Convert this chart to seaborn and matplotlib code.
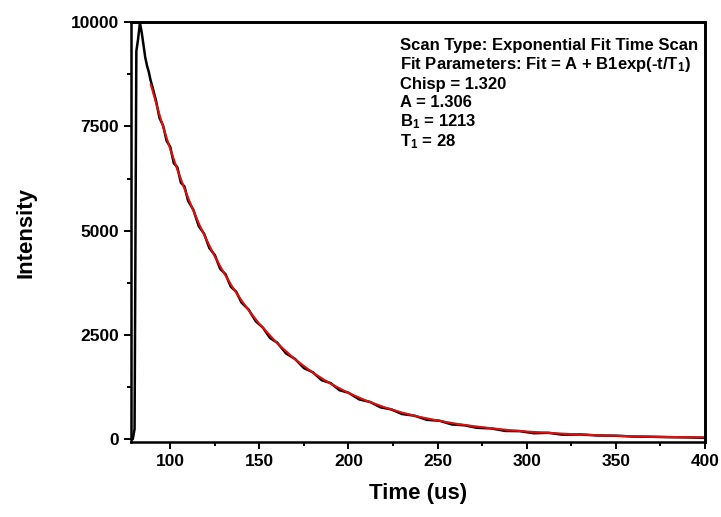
import pandas as pd
import matplotlib
matplotlib.use("Agg")
import matplotlib.pyplot as plt
from matplotlib.ticker import MultipleLocator
import seaborn as sns

# measured decay (black trace)
time_data = [78, 79, 80, 80.5, 81, 82, 83, 84, 85, 86, 87, 88, 89, 90, 92, 94, 96, 98,
             100, 102, 104, 106, 108, 110, 113, 116, 119, 122, 125, 128, 131, 134, 137,
             140, 144, 148, 152, 156, 160, 165, 170, 175, 180, 185, 190, 195, 200, 206,
             212, 218, 224, 230, 237, 244, 251, 258, 265, 272, 280, 288, 296, 304, 312,
             320, 330, 340, 350, 360, 370, 380, 390, 400]
intensity_data = [0, 10, 250, 4800, 9300, 9600, 9980, 9750, 9450, 9150, 8950, 8800, 8600, 8450,
                  8120, 7700, 7520, 7150, 7010, 6620, 6520, 6150, 6060, 5720, 5500, 5110,
                  4930, 4580, 4420, 4090, 3960, 3660, 3540, 3280, 3110, 2830, 2680, 2430,
                  2320, 2060, 1930, 1710, 1610, 1420, 1350, 1180, 1120, 960, 900, 770, 720,
                  610, 570, 470, 450, 360, 340, 280, 265, 205, 200, 150, 160, 115, 120, 95,
                  90, 70, 65, 55, 50, 40]

# exponential fit (red trace)
time_fit = [89, 90, 92, 94, 96, 98, 100, 104, 108, 112, 116, 120, 125, 130, 135, 140,
            145, 150, 160, 170, 180, 190, 200, 210, 220, 230, 240, 250, 260, 270, 280,
            290, 300, 310, 320, 330, 340, 350, 360, 370, 380, 390, 400]
intensity_fit = [8510, 8370, 8070, 7775, 7495, 7220, 6960, 6465, 6005, 5580, 5180, 4815,
                 4385, 4000, 3645, 3330, 3040, 2770, 2305, 1920, 1600, 1335, 1115, 930,
                 775, 645, 540, 455, 380, 320, 270, 225, 190, 165, 140, 120, 100, 90, 75,
                 65, 60, 55, 50]

fit_lines = [
    "Scan Type: Exponential Fit Time Scan",
    "Fit Parameters: Fit = A + B1exp(-t/T$_1$)",
    "Chisp = 1.320",
    "A = 1.306",
    "B$_1$ = 1213",
    "T$_1$ = 28",
]

sns.set_theme(style="ticks")
plt.rcParams["font.family"] = ["Liberation Sans", "DejaVu Sans"]
plt.rcParams["font.weight"] = "bold"
plt.rcParams["text.color"] = "black"
plt.rcParams["axes.labelcolor"] = "black"
plt.rcParams["axes.edgecolor"] = "black"
plt.rcParams["mathtext.fontset"] = "custom"
plt.rcParams["mathtext.rm"] = "Liberation Sans:bold"
plt.rcParams["mathtext.it"] = "Liberation Sans:bold"
plt.rcParams["mathtext.bf"] = "Liberation Sans:bold"

df_data = pd.DataFrame({"Time": time_data, "Intensity": intensity_data})
df_fit = pd.DataFrame({"Time": time_fit, "Intensity": intensity_fit})

fig = plt.figure(figsize=(7.21, 5.17), dpi=100)
ax = fig.add_axes([0.1817, 0.1451, 0.7961, 0.8123])

sns.lineplot(data=df_data, x="Time", y="Intensity", ax=ax, color="black",
             linewidth=1.8, sort=False, estimator=None)
sns.lineplot(data=df_fit, x="Time", y="Intensity", ax=ax, color="#e01010",
             linewidth=1.5, sort=False, estimator=None)

ax.set_xlim(78, 400)
ax.set_ylim(-60, 10000)
ax.xaxis.set_major_locator(MultipleLocator(50))
ax.xaxis.set_minor_locator(MultipleLocator(25))
ax.yaxis.set_major_locator(MultipleLocator(2500))
ax.yaxis.set_minor_locator(MultipleLocator(1250))
ax.tick_params(which="major", direction="out", length=5, width=1.4, labelsize=12.5,
               colors="black")
ax.tick_params(which="minor", direction="out", length=3, width=1.4, colors="black")
for lbl in ax.get_xticklabels() + ax.get_yticklabels():
    lbl.set_fontweight("bold")
for side in ["top", "right", "left", "bottom"]:
    ax.spines[side].set_visible(True)
    ax.spines[side].set_linewidth(1.8)
    ax.spines[side].set_color("black")

# make sure the top and right edges of the box are drawn
ax.plot([0, 1, 1], [1, 1, 0], transform=ax.transAxes, color="black", linewidth=2.0,
        clip_on=False, zorder=6, solid_capstyle="projecting")

ax.set_xlabel("Time (us)", fontsize=16, fontweight="bold", labelpad=10)
ax.set_ylabel("Intensity", fontsize=16, fontweight="bold", labelpad=25)

y_pos = [0.9116, 0.8743, 0.8356, 0.8008, 0.7640, 0.7253]
for txt, yp in zip(fit_lines, y_pos):
    fig.text(0.555, yp, txt, fontsize=12, fontweight="bold", ha="left", va="center")

fig.savefig("out.png", dpi=100)
